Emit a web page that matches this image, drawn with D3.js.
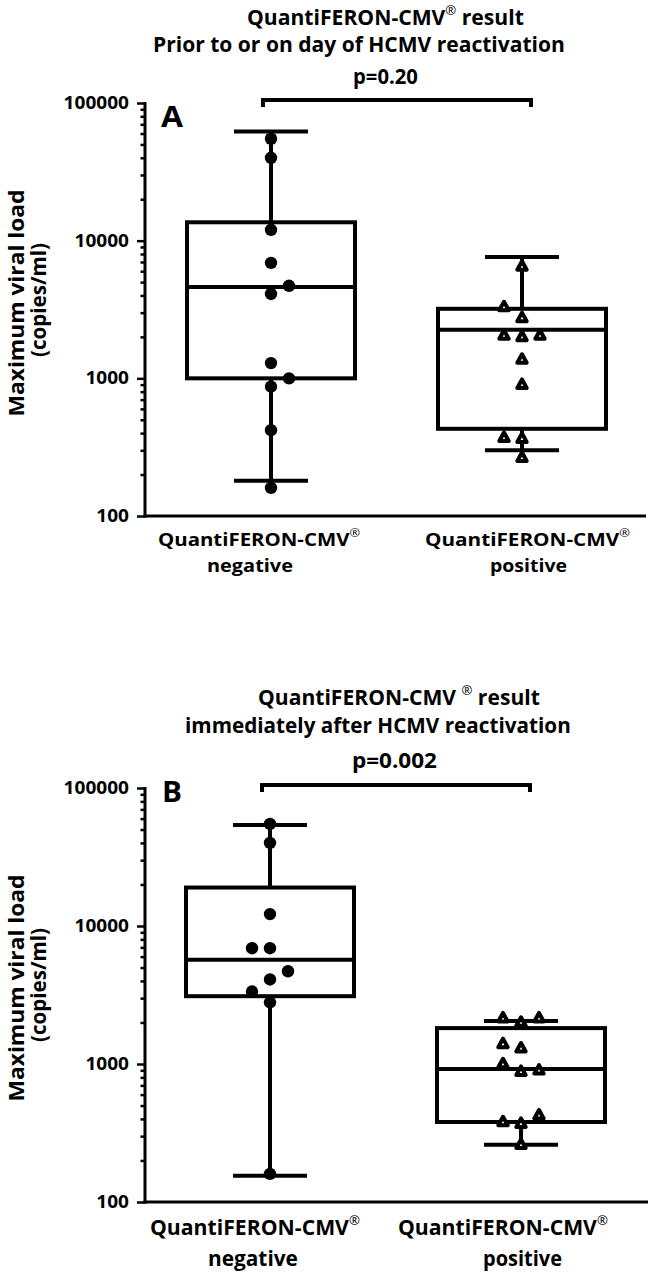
<!DOCTYPE html>
<html>
<head>
<meta charset="utf-8">
<script src="https://cdn.jsdelivr.net/npm/d3@7"></script>
<style>
  html, body { margin: 0; padding: 0; background: #fff; }
  svg { display: block; }
  text { font-family: "Open Sans", Lato, sans-serif; font-weight: bold; fill: #000; }
</style>
</head>
<body>
<script>
// ---------------- DATA ----------------
const categories = ["negative", "positive"];
const yTickValues = [100, 1000, 10000, 100000];
const yTickLabels = ["100", "1000", "10000", "100000"];
const yMinorMultipliers = [2, 3, 4, 5, 6, 7, 8, 9];

// Panel A
const negA = [55000, 40000, 12000, 6900, 4700, 4100, 1290, 1000, 870, 420, 160];
const negASlot = [0, 0, 0, 0, 1, 0, 0, 1, 0, 0, 0];
const posA = [6500, 3300, 2750, 2050, 2000, 2050, 1370, 900, 370, 365, 265];
const posASlot = [0, -1, 0, -1, 0, 1, 0, 0, -1, 0, 0];
// box stats: [whisker low, Q1, median, Q3, whisker high]
const boxNegA = [180, 1000, 4600, 13600, 62000];
const boxPosA = [300, 430, 2250, 3200, 7600];
const pA = "p=0.20";

// Panel B
const negB = [55000, 40000, 12200, 6900, 6900, 4700, 4100, 3350, 2800, 160];
const negBSlot = [0, 0, 0, -1, 0, 1, 0, -1, 0, 0];
const posB = [2150, 2000, 2150, 1400, 1300, 1000, 880, 900, 380, 425, 370, 260];
const posBSlot = [-1, 0, 1, -1, 0, -1, 0, 1, -1, 1, 0, 0];
const boxNegB = [155, 3100, 5700, 19000, 54000];
const boxPosB = [260, 380, 920, 1820, 2050];
const pB = "p=0.002";

const titleA = ["QuantiFERON-CMV", "®", " result"];
const subtitleA = ["Prior to or on day of HCMV reactivation"];
const titleB = ["QuantiFERON-CMV ", "®", " result"];
const subtitleB = ["immediately after HCMV reactivation"];
const xLabelTop = ["QuantiFERON-CMV", "®"];
const xLabelBottom = ["negative", "positive"];
const yTitle = ["Maximum viral load", "(copies/ml)"];

// ---------------- DRAW ----------------
const W = 651, H = 1278;
const svg = d3.select("body").append("svg").attr("width", W).attr("height", H);

// text drawn at a given size, horizontally scaled to a target width
function sText(g, parts, x, y, size, target, anchor, rot) {
  const t = g.append("text").attr("font-size", size).attr("text-anchor", anchor || "start");
  t.append("tspan").text(parts[0]);
  if (parts.length > 1) {
    t.append("tspan").attr("font-size", "0.62em").attr("dy", "-0.75em").attr("font-weight", "normal").text(parts[1]);
    if (parts[2] !== undefined) t.append("tspan").attr("dy", "0.465em").text(parts[2]);
  }
  const w = t.node().getComputedTextLength();
  t.attr("transform", `translate(${x},${y}) rotate(${rot || 0}) scale(${target / w},1)`);
  return t;
}

function panel(cfg) {
  const g = svg.append("g");
  const y = d3.scaleLog().domain([100, 100000]).range([cfg.yBottom, cfg.yTop]);
  const x = d3.scalePoint().domain(categories).range(cfg.xRange);
  const axX = cfg.axisX;

  // minor ticks
  const minor = [];
  yTickValues.slice(0, -1).forEach(d => yMinorMultipliers.forEach(k => minor.push(d * k)));
  g.append("g").attr("transform", `translate(${axX},0)`)
    .call(d3.axisLeft(y).tickValues(minor).tickSize(4.5).tickFormat(""))
    .call(s => s.select(".domain").remove())
    .call(s => s.selectAll("line").attr("stroke", "#000").attr("stroke-width", 2.5));

  // major ticks
  const ax = g.append("g").attr("transform", `translate(${axX},0)`)
    .call(d3.axisLeft(y).tickValues(yTickValues).tickSize(8).tickPadding(8)
      .tickFormat((d, i) => yTickLabels[i]));
  ax.select(".domain").remove();
  ax.selectAll("line").attr("stroke", "#000").attr("stroke-width", 2.5);
  ax.selectAll("text").attr("font-size", 17.5).attr("font-family", "'Open Sans', Lato, sans-serif")
    .attr("font-weight", "bold").attr("fill", "#000")
    .attr("textLength", function () { return this.textContent.length * 10.9; })
    .attr("lengthAdjust", "spacingAndGlyphs");

  // axis lines
  g.append("line").attr("x1", axX).attr("x2", axX).attr("y1", y(100000) - 1).attr("y2", y(100) + 1.5)
    .attr("stroke", "#000").attr("stroke-width", 3);
  g.append("line").attr("x1", axX - 1.5).attr("x2", cfg.xAxisEnd).attr("y1", y(100)).attr("y2", y(100))
    .attr("stroke", "#000").attr("stroke-width", 3);

  // boxes
  const halfBox = 84, halfCap = 37;
  [cfg.boxNeg, cfg.boxPos].forEach((b, i) => {
    const cx = x(categories[i]);
    const bg = g.append("g").attr("stroke", "#000").attr("stroke-width", 4).attr("fill", "none");
    bg.append("line").attr("x1", cx).attr("x2", cx).attr("y1", y(b[3])).attr("y2", y(b[4]));
    bg.append("line").attr("x1", cx).attr("x2", cx).attr("y1", y(b[1])).attr("y2", y(b[0]));
    bg.append("line").attr("x1", cx - halfCap).attr("x2", cx + halfCap).attr("y1", y(b[4])).attr("y2", y(b[4]));
    bg.append("line").attr("x1", cx - halfCap).attr("x2", cx + halfCap).attr("y1", y(b[0])).attr("y2", y(b[0]));
    bg.append("rect").attr("x", cx - halfBox).attr("width", 2 * halfBox)
      .attr("y", y(b[3])).attr("height", y(b[1]) - y(b[3]));
    bg.append("line").attr("x1", cx - halfBox).attr("x2", cx + halfBox).attr("y1", y(b[2])).attr("y2", y(b[2]));
  });

  // points
  const slotW = 18;
  const cxN = x(categories[0]), cxP = x(categories[1]);
  g.append("g").selectAll("circle").data(cfg.neg).join("circle")
    .attr("cx", (d, i) => cxN + cfg.negSlot[i] * slotW)
    .attr("cy", d => y(d)).attr("r", 6.2).attr("fill", "#000");
  const tri = "M0,-5.2 L4.7,3.3 L-4.7,3.3 Z";
  g.append("g").selectAll("path").data(cfg.pos).join("path")
    .attr("d", tri)
    .attr("transform", (d, i) => `translate(${cxP + cfg.posSlot[i] * slotW},${y(d)})`)
    .attr("fill", "#fff").attr("stroke", "#000").attr("stroke-width", 4).attr("stroke-linejoin", "round");

  // bracket
  const bx1 = cxN - 8, bx2 = cxP + 9;
  g.append("path").attr("d", `M${bx1},${cfg.bracketY + 7}V${cfg.bracketY}H${bx2}V${cfg.bracketY + 7}`)
    .attr("fill", "none").attr("stroke", "#000").attr("stroke-width", 4);

  // titles
  sText(g, cfg.title, cfg.t1.x, cfg.t1.y, 20.5, cfg.t1.w);
  sText(g, cfg.subtitle, cfg.t2.x, cfg.t2.y, 20.5, cfg.t2.w);
  sText(g, [cfg.p], cfg.pt.x, cfg.pt.y, 20.5, cfg.pt.w);
  sText(g, [cfg.letterText], cfg.letter.x, cfg.letter.y, 28, cfg.letter.w);

  // x labels
  cfg.xl.forEach((l, i) => {
    sText(g, xLabelTop, l.x1, l.y1, cfg.xlSize, l.w1);
    sText(g, [xLabelBottom[i]], l.x2, l.y2, cfg.xlSize, l.w2);
  });

  // y title
  const yc = cfg.yTitleC;
  sText(g, [yTitle[0]], 24, yc, 22, 227, "middle", -90);
  sText(g, [yTitle[1]], 46, yc - 3, 22, 114, "middle", -90);
}

panel({
  yBottom: 516, yTop: 103, xRange: [271, 522], axisX: 145, xAxisEnd: 646,
  boxNeg: boxNegA, boxPos: boxPosA, neg: negA, negSlot: negASlot, pos: posA, posSlot: posASlot,
  bracketY: 100, title: titleA, subtitle: subtitleA, p: pA, letterText: "A",
  t1: { x: 247, y: 25, w: 277 }, t2: { x: 153, y: 52, w: 412 }, pt: { x: 353, y: 84, w: 65 },
  letter: { x: 161, y: 127, w: 22 }, xlSize: 18.5,
  xl: [{ x1: 158, y1: 546, w1: 202, x2: 207, y2: 572, w2: 86 },
       { x1: 425, y1: 546, w1: 205, x2: 490, y2: 572, w2: 77 }],
  yTitleC: 303
});

panel({
  yBottom: 1202, yTop: 788, xRange: [270, 521], axisX: 145, xAxisEnd: 648,
  boxNeg: boxNegB, boxPos: boxPosB, neg: negB, negSlot: negBSlot, pos: posB, posSlot: posBSlot,
  bracketY: 785, title: titleB, subtitle: subtitleB, p: pB, letterText: "B",
  t1: { x: 258, y: 705, w: 282 }, t2: { x: 185, y: 733, w: 386 }, pt: { x: 352, y: 768, w: 85 },
  letter: { x: 162, y: 802, w: 20 }, xlSize: 20.5,
  xl: [{ x1: 150, y1: 1235, w1: 210, x2: 208, y2: 1266, w2: 90 },
       { x1: 398, y1: 1235, w1: 210, x2: 483, y2: 1266, w2: 79 }],
  yTitleC: 988
});
</script>
</body>
</html>
